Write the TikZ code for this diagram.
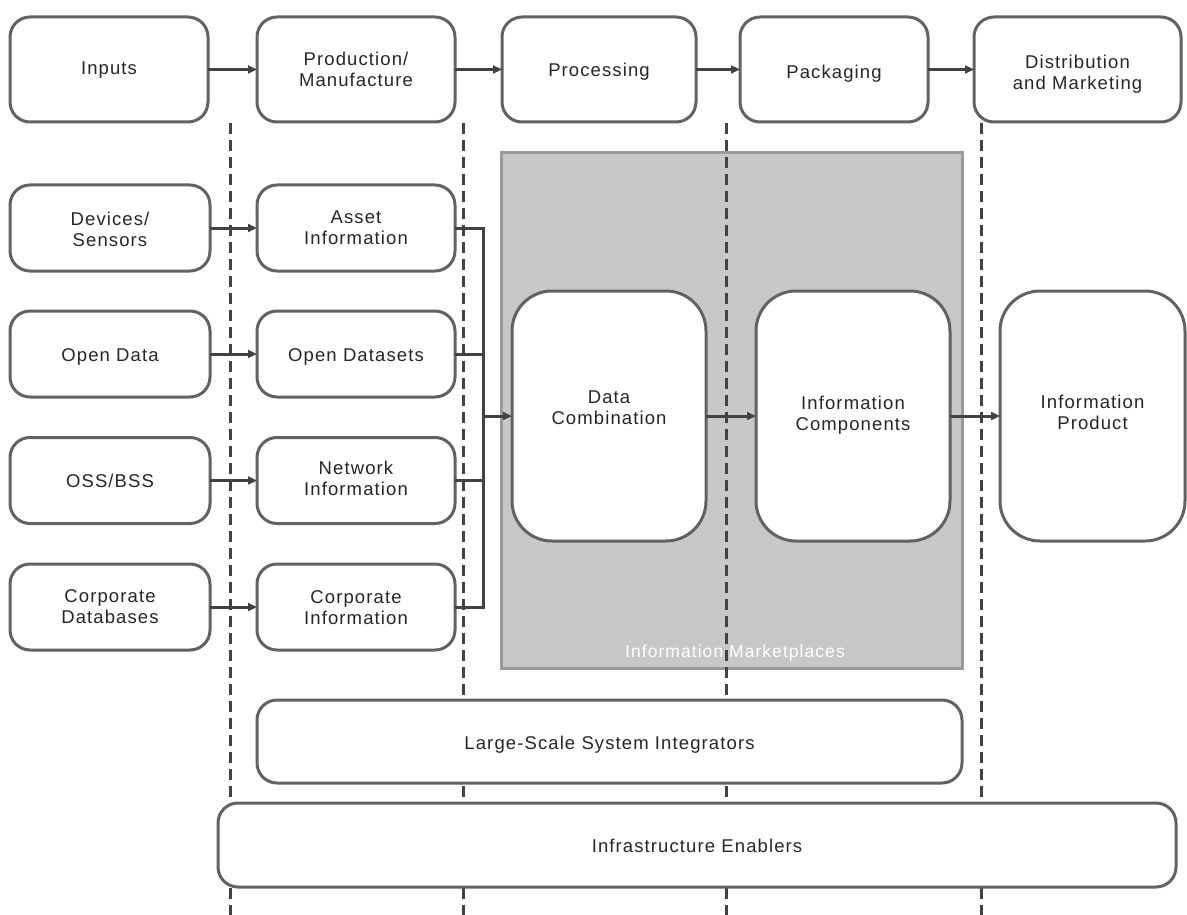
\documentclass[tikz,border=0pt]{standalone}
\usepackage{fontspec}
\setmainfont{Liberation Sans}[LetterSpace=6]
\usetikzlibrary{arrows.meta}
\definecolor{boxline}{HTML}{626262}
\definecolor{arrowc}{HTML}{424242}
\definecolor{txt}{HTML}{262626}
\definecolor{graybg}{HTML}{C8C8C8}
\definecolor{grayline}{HTML}{9A9A9A}
% text block shifted down by #1 (in pt) inside its node, keeping the node size
\newcommand\tlines[2]{\raisebox{-#1pt}[\height][\depth]{\begin{tabular}{@{}c@{}}#2\end{tabular}}}
\tikzset{
  box/.style={draw=boxline, line width=3pt, fill=white, rounded corners=20pt,
    inner sep=0pt, outer sep=0pt, text=txt,
    font=\fontsize{18.5}{21}\selectfont},
  bigbox/.style={box, rounded corners=40pt},
  conn/.style={draw=arrowc, line width=3pt, -{Triangle[length=9pt,width=8pt]}},
  plain/.style={draw=arrowc, line width=3pt},
  vdash/.style={draw=arrowc, line width=3pt, dash pattern=on 11pt off 6pt},
}
\begin{document}
\begin{tikzpicture}[x=1pt,y=-1pt]
\useasboundingbox (0,0) rectangle (1187,915);
\fill[white] (0,0) rectangle (1187,915);
% gray marketplace area
\node[draw=grayline, fill=graybg, line width=3pt, inner sep=0pt, outer sep=0pt,
  minimum width=461pt, minimum height=515pt] (market) at (731.5,410.5) {};
\node[text=white, font=\fontsize{17.5}{20}\selectfont, anchor=base] (marketlbl) at (735,657) {Information Marketplaces};
% dashed column separators
\foreach \n/\x in {a/230,b/463,c/726,d/981}{
  \coordinate (t\n) at (\x,123);
  \coordinate (b\n) at (\x,915);
  \draw[vdash] (t\n) -- (b\n);
}
% top row
\node[box, minimum width=198pt, minimum height=105pt] (inputs) at (109,69.5) {\tlines{1}{Inputs}};
\node[box, minimum width=198pt, minimum height=105pt] (prod) at (356,69.5) {\tlines{2}{Production/\\Manufacture}};
\node[box, minimum width=194pt, minimum height=105pt] (proc) at (599,69.5) {\tlines{3}{Processing}};
\node[box, minimum width=188pt, minimum height=105pt] (pack) at (834,69.5) {\tlines{5}{Packaging}};
\node[box, minimum width=207pt, minimum height=105pt] (dist) at (1077.5,69.5) {\tlines{5}{Distribution\\and Marketing}};
\draw[conn] (inputs) -- (prod);
\draw[conn] (prod) -- (proc);
\draw[conn] (proc) -- (pack);
\draw[conn] (pack) -- (dist);
% left columns
\node[box, minimum width=200pt, minimum height=86pt] (dev) at (110,228) {\tlines{3.5}{Devices/\\Sensors}};
\node[box, minimum width=200pt, minimum height=86pt] (open) at (110,354) {\tlines{3}{Open Data}};
\node[box, minimum width=200pt, minimum height=86pt] (oss) at (110,480.5) {\tlines{3}{OSS/BSS}};
\node[box, minimum width=200pt, minimum height=86pt] (cdb) at (110,607) {\tlines{1.5}{Corporate\\Databases}};
\node[box, minimum width=198pt, minimum height=86pt] (asset) at (356,228) {\tlines{2}{Asset\\Information}};
\node[box, minimum width=198pt, minimum height=86pt] (ods) at (356,354) {\tlines{3}{Open Datasets}};
\node[box, minimum width=198pt, minimum height=86pt] (net) at (356,480.5) {\tlines{0}{Network\\Information}};
\node[box, minimum width=198pt, minimum height=86pt] (cinfo) at (356,607) {\tlines{3}{Corporate\\Information}};
\draw[conn] (dev) -- (asset);
\draw[conn] (open) -- (ods);
\draw[conn] (oss) -- (net);
\draw[conn] (cdb) -- (cinfo);
% big boxes
\node[bigbox, minimum width=194pt, minimum height=250pt] (dc) at (609,416) {\tlines{-6}{Data\\Combination}};
\node[bigbox, minimum width=194pt, minimum height=250pt] (ic) at (853,416) {\tlines{0}{Information\\Components}};
\node[bigbox, minimum width=185pt, minimum height=250pt] (ip) at (1092.5,416) {\tlines{-1}{Information\\Product}};
% merge connector
\coordinate (mtop) at (483,228);
\coordinate (mbot) at (483,607);
\coordinate (mmid) at (483,416);
\draw[plain] (asset.east) -- (mtop) -- (mbot) -- (cinfo.east);
\draw[plain] (ods.east) -- (ods.east -| mmid);
\draw[plain] (net.east) -- (net.east -| mmid);
\draw[conn] (mmid) -- (dc.west);
\draw[conn] (dc) -- (ic);
\draw[conn] (ic) -- (ip);
% bottom bars
\node[box, minimum width=705pt, minimum height=83pt] (lsi) at (609.5,741.5) {\tlines{4}{Large-Scale System Integrators}};
\node[box, minimum width=958pt, minimum height=84pt] (infra) at (697,845) {\tlines{3}{Infrastructure Enablers}};
\end{tikzpicture}
\end{document}
